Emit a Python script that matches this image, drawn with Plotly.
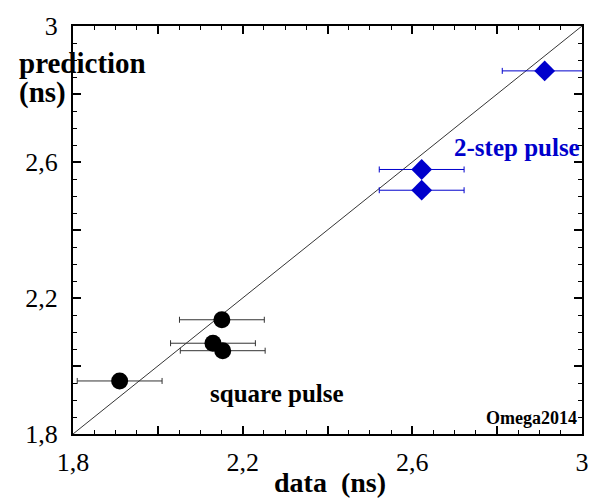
import plotly.graph_objects as go

# Square pulse measurements (black circles)
sq_data = [1.91, 2.151, 2.130, 2.153]
sq_pred = [1.956, 2.136, 2.067, 2.045]
sq_err = [0.10, 0.10, 0.10, 0.10]

# 2-step pulse measurements (blue diamonds)
st_data = [2.912, 2.622, 2.622]
st_pred = [2.868, 2.578, 2.517]
st_err = [0.10, 0.10, 0.10]

# Ideal agreement line
diag = [1.8, 3.0]

major_vals = [1.8, 2.0, 2.2, 2.4, 2.6, 2.8, 3.0]
major_text = ["1,8", "", "2,2", "", "2,6", "", "3"]

SERIF = "Liberation Serif"
BLUE = "#0000CC"

fig = go.Figure()

fig.add_trace(go.Scatter(
    x=diag, y=diag, mode="lines",
    line=dict(color="black", width=0.8),
    showlegend=False, hoverinfo="skip",
))

fig.add_trace(go.Scatter(
    x=sq_data, y=sq_pred, mode="markers",
    marker=dict(symbol="circle", size=17, color="black"),
    error_x=dict(type="data", array=sq_err, color="#333333", thickness=1, width=3),
    showlegend=False,
))

fig.add_trace(go.Scatter(
    x=st_data, y=st_pred, mode="markers",
    marker=dict(symbol="diamond", size=16, color=BLUE),
    error_x=dict(type="data", array=st_err, color=BLUE, thickness=1, width=3),
    showlegend=False,
))

axis_common = dict(
    range=[1.8, 3.0],
    tickmode="array",
    tickvals=major_vals,
    ticktext=major_text,
    ticks="inside",
    ticklen=8,
    tickwidth=1.5,
    tickcolor="black",
    showline=True,
    linecolor="black",
    linewidth=2,
    mirror="allticks",
    showgrid=False,
    zeroline=False,
    tickfont=dict(family=SERIF, size=26, color="black"),
    minor=dict(dtick=0.05, tick0=1.8, ticks="inside", ticklen=4,
               tickwidth=1, tickcolor="black", showgrid=False),
)

fig.update_xaxes(**axis_common, ticklabelstandoff=4)
fig.update_yaxes(**axis_common, ticklabelstandoff=8)

ann_font = dict(family=SERIF, color="black")
fig.update_layout(
    width=601, height=503,
    margin=dict(l=73, r=14, t=23, b=69),
    plot_bgcolor="white",
    paper_bgcolor="white",
    annotations=[
        dict(text="<b>prediction</b>", xref="paper", yref="paper",
             x=-0.11, y=0.909, xanchor="left", yanchor="middle",
             showarrow=False, font=dict(ann_font, size=29)),
        dict(text="<b>(ns)</b>", xref="paper", yref="paper",
             x=-0.11, y=0.836, xanchor="left", yanchor="middle",
             showarrow=False, font=dict(ann_font, size=29)),
        dict(text="<b>data  (ns)</b>", xref="paper", yref="paper",
             x=0.504, y=-0.162, xanchor="center", yanchor="bottom",
             showarrow=False, font=dict(ann_font, size=28)),
        dict(text="<b>square pulse</b>", xref="paper", yref="paper",
             x=0.401, y=0.100, xanchor="center", yanchor="middle",
             showarrow=False, font=dict(ann_font, size=25)),
        dict(text="<b>2-step pulse</b>", xref="paper", yref="paper",
             x=0.872, y=0.703, xanchor="center", yanchor="middle",
             showarrow=False, font=dict(family=SERIF, size=25, color=BLUE)),
        dict(text="<b>Omega2014</b>", xref="paper", yref="paper",
             x=0.901, y=0.039, xanchor="center", yanchor="middle",
             showarrow=False, font=dict(ann_font, size=18)),
    ],
)

fig.write_html("out.html")
